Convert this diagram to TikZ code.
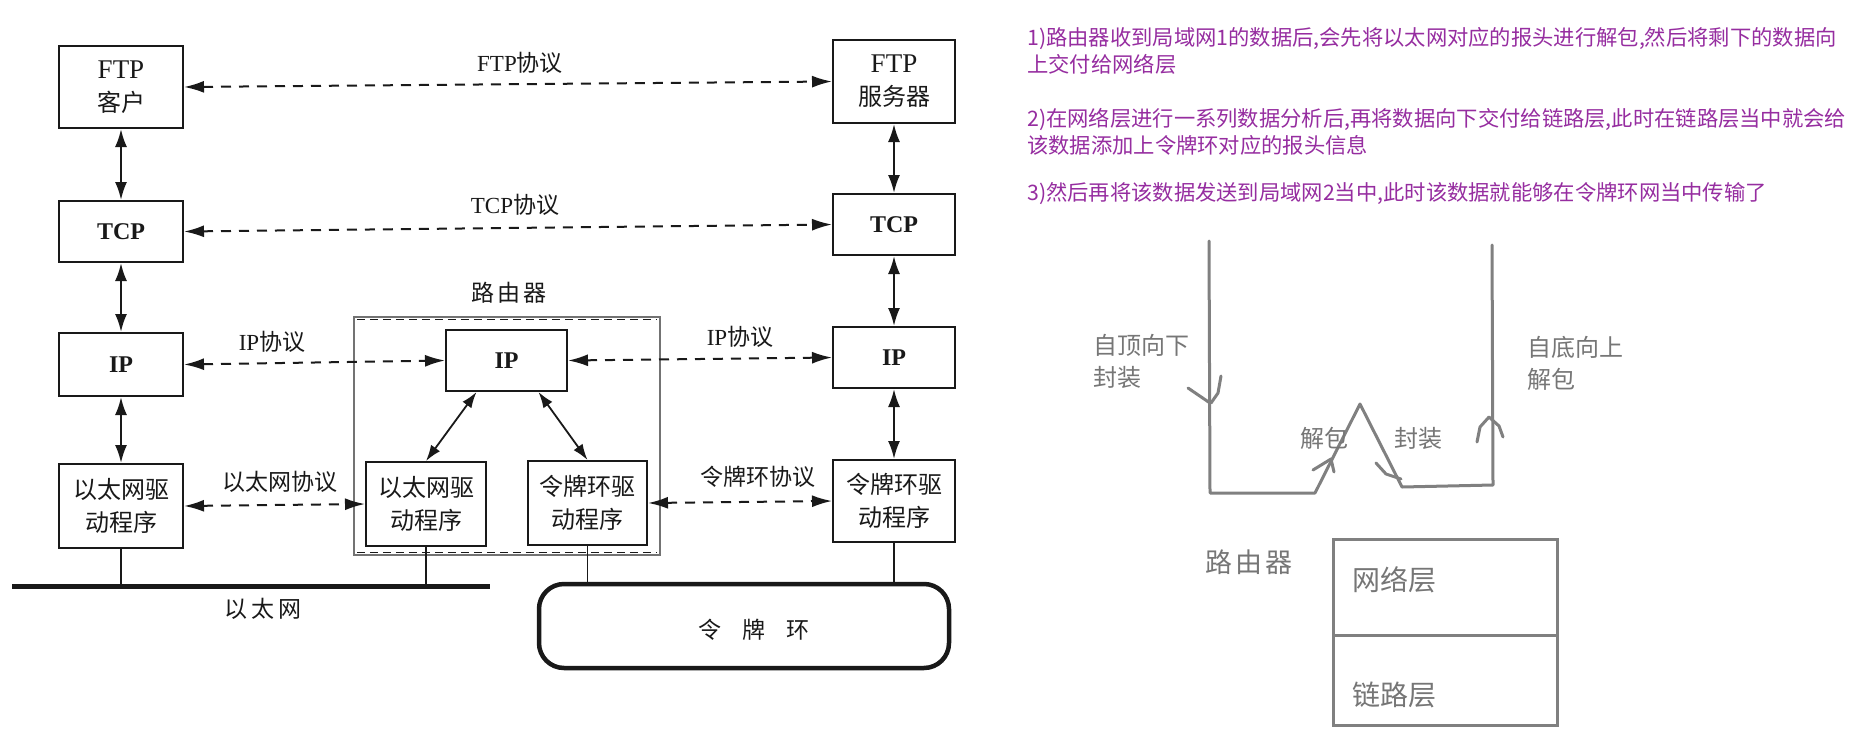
\documentclass[tikz,border=0pt]{standalone}
\usepackage{fontspec}
\setmainfont{Liberation Serif}
\newfontfamily\cjk{Noto Sans CJK SC}
\usetikzlibrary{arrows.meta,calc}
\definecolor{ink}{RGB}{25,25,25}
\definecolor{handc}{RGB}{128,128,128}
\definecolor{notec}{RGB}{150,45,160}
\definecolor{rboxc}{RGB}{115,115,115}
\definecolor{graytxt}{RGB}{118,118,118}
\begin{document}
\begin{tikzpicture}[x=1pt,y=-1pt,
  lay/.style={draw=ink,line width=2pt,inner sep=0pt,align=center,text=ink,font=\fontsize{24}{33}\selectfont},
  bold/.style={font=\bfseries\fontsize{24}{28}\selectfont},
  lbl/.style={text=ink,inner sep=0pt,font=\fontsize{23}{26}\selectfont},
  solidarr/.style={draw=ink,line width=2.2pt,{Latex[length=18pt,width=12pt]}-{Latex[length=18pt,width=12pt]}},
  diagarr/.style={draw=ink,line width=1.8pt,{Latex[length=16pt,width=11pt]}-{Latex[length=16pt,width=11pt]}},
  dasharr/.style={draw=ink,line width=2pt,dash pattern=on 10pt off 8pt,{Latex[length=20pt,width=12pt]}-{Latex[length=20pt,width=12pt]}},
  stub/.style={draw=ink,line width=1.5pt},
  hand/.style={draw=handc,line width=3pt,line cap=round,line join=round},
  gl/.style={text=graytxt,inner sep=0pt,align=left,font=\cjk\fontsize{24}{32}\selectfont},
  nt/.style={text=notec,inner sep=0pt,anchor=base west,font=\cjk\fontsize{21.3}{27}\selectfont}
]
\fill[white] (0,0) rectangle (1852,739);
\useasboundingbox (0,0) rectangle (1852,739);

% router frame
\node[draw=rboxc,line width=2.5pt,minimum width=306pt,minimum height=238pt,inner sep=0pt] (router) at (507,436) {};
\draw[ink,line width=1.2pt,dash pattern=on 8pt off 5pt] ($(router.north west)+(4,4)$) -- ($(router.north east)+(-4,4)$);
\draw[ink,line width=1.2pt,dash pattern=on 8pt off 5pt] ($(router.south west)+(4,-4)$) -- ($(router.south east)+(-4,-4)$);
\node[lbl] (rlab) at (509,293) {\cjk 路\hspace{3pt}由\hspace{3pt}器};

% left host
\node[lay,minimum width=124pt,minimum height=82pt] (ftpc) at (121,87) {{\fontsize{27}{33}\selectfont FTP}\\{\cjk 客户}};
\node[lay,bold,minimum width=124pt,minimum height=61pt] (tcpl) at (121,231.5) {TCP};
\node[lay,bold,minimum width=124pt,minimum height=63pt] (ipl) at (121,364.5) {IP};
\node[lay,minimum width=124pt,minimum height=84pt] (ethl) at (121,506) {{\cjk 以太网驱}\\{\cjk 动程序}};

% right host
\node[lay,minimum width=122pt,minimum height=83pt] (ftps) at (894,81.5) {{\fontsize{27}{33}\selectfont FTP}\\{\cjk 服务器}};
\node[lay,bold,minimum width=122pt,minimum height=61pt] (tcpr) at (894,224.5) {TCP};
\node[lay,bold,minimum width=122pt,minimum height=61pt] (ipr) at (894,357.5) {IP};
\node[lay,minimum width=122pt,minimum height=82pt] (tokr) at (894,501) {{\cjk 令牌环驱}\\{\cjk 动程序}};

% router inner
\node[lay,bold,minimum width=121pt,minimum height=61pt] (rip) at (506.5,360.5) {IP};
\node[lay,minimum width=120pt,minimum height=84pt] (reth) at (426,504) {{\cjk 以太网驱}\\{\cjk 动程序}};
\node[lay,minimum width=119pt,minimum height=84pt] (rtok) at (587.5,503) {{\cjk 令牌环驱}\\{\cjk 动程序}};

% protocol labels
\node[lbl] (pftp) at (520,63) {FTP{\cjk 协议}};
\node[lbl] (ptcp) at (515,205) {TCP{\cjk 协议}};
\node[lbl] (pip1) at (272,342) {IP{\cjk 协议}};
\node[lbl] (pip2) at (740,337) {IP{\cjk 协议}};
\node[lbl] (peth) at (280,482) {\cjk 以太网协议};
\node[lbl] (ptok) at (758,477) {\cjk 令牌环协议};

% layer arrows
\draw[solidarr] (ftpc.south) -- (tcpl.north);
\draw[solidarr] (tcpl.south) -- (ipl.north);
\draw[solidarr] (ipl.south) -- (ethl.north);
\draw[solidarr] (ftps.south) -- (tcpr.north);
\draw[solidarr] (tcpr.south) -- (ipr.north);
\draw[solidarr] (ipr.south) -- (tokr.north);
\draw[diagarr] ($(rip.south)+(-30,0)$) -- (reth.north);
\draw[diagarr] ($(rip.south)+(32,0)$) -- (rtok.north);

% peer protocols
\draw[dasharr] (ftpc.east) -- (ftps.west);
\draw[dasharr] (tcpl.east) -- (tcpr.west);
\draw[dasharr] (ipl.east) -- (rip.west);
\draw[dasharr] (rip.east) -- (ipr.west);
\draw[dasharr] (ethl.east) -- (reth.west);
\draw[dasharr] (rtok.east) -- (tokr.west);

% ethernet
\coordinate (ethA) at (12,586);
\coordinate (ethB) at (490,586);
\draw[ink,line width=5pt] (ethA) -- (ethB);
\draw[stub] (ethl.south) -- (ethl.south |- ethA);
\draw[stub] (reth.south) -- (reth.south |- ethA);
\node[lbl,font=\cjk\fontsize{23}{26}\selectfont] (ethlab) at (263,609) {以\hspace{4pt}太\hspace{4pt}网};

% token ring
\node[draw=ink,line width=4.5pt,rounded corners=25pt,minimum width=410pt,minimum height=84pt,inner sep=0pt] (ring) at (744,626) {};
\node[lbl,font=\cjk\fontsize{23}{26}\selectfont] (ringlab) at (754,630) {令\hspace{21pt}牌\hspace{21pt}环};
\draw[stub] (rtok.south) -- (rtok.south |- ring.north);
\draw[stub] (tokr.south) -- (tokr.south |- ring.north);

% notes
\node[nt] (n1a) at (1027,45) {1)路由器收到局域网1的数据后,会先将以太网对应的报头进行解包,然后将剩下的数据向};
\node[nt] (n1b) at (1027,72) {上交付给网络层};
\node[nt] (n2a) at (1027,126) {2)在网络层进行一系列数据分析后,再将数据向下交付给链路层,此时在链路层当中就会给};
\node[nt] (n2b) at (1027,153) {该数据添加上令牌环对应的报头信息};
\node[nt] (n3) at (1027,200) {3)然后再将该数据发送到局域网2当中,此时该数据就能够在令牌环网当中传输了};

% hand drawing
\draw[hand] (1209,241) -- (1210,493) -- (1315,493) -- (1360,404) -- (1402,487) -- (1493,485) -- (1492,245);
\draw[hand] (1188,388) -- (1210,403);
\draw[hand] (1221,376) -- (1218,393) -- (1211,403);
\draw[hand] (1313,470) -- (1331,459) -- (1334,472);
\draw[hand] (1376,463) -- (1386,474) -- (1401,479);
\draw[hand] (1477,442) -- (1480,427) -- (1489,417) -- (1499,426) -- (1503,437);
\node[gl,anchor=west] (tdown) at (1093,361) {自顶向下\\封装};
\node[gl,anchor=west] (bup) at (1527,363) {自底向上\\解包};
\node[gl] (unp) at (1324,438) {解包};
\node[gl] (enc) at (1418,438) {封装};

% router layers
\node[gl,font=\cjk\fontsize{27}{30}\selectfont] (rt) at (1249,562) {路\hspace{3pt}由\hspace{3pt}器};
\node[draw=handc,line width=3pt,minimum width=224pt,minimum height=96pt,inner sep=0pt] (netl) at (1445.5,587) {};
\node[draw=handc,line width=3pt,minimum width=224pt,minimum height=90pt,inner sep=0pt] (linkl) at (1445.5,680) {};
\node[gl,anchor=west,font=\cjk\fontsize{28}{30}\selectfont] (netlab) at (1352,580) {网络层};
\node[gl,anchor=west,font=\cjk\fontsize{28}{30}\selectfont] (linklab) at (1352,695) {链路层};
\end{tikzpicture}
\end{document}
